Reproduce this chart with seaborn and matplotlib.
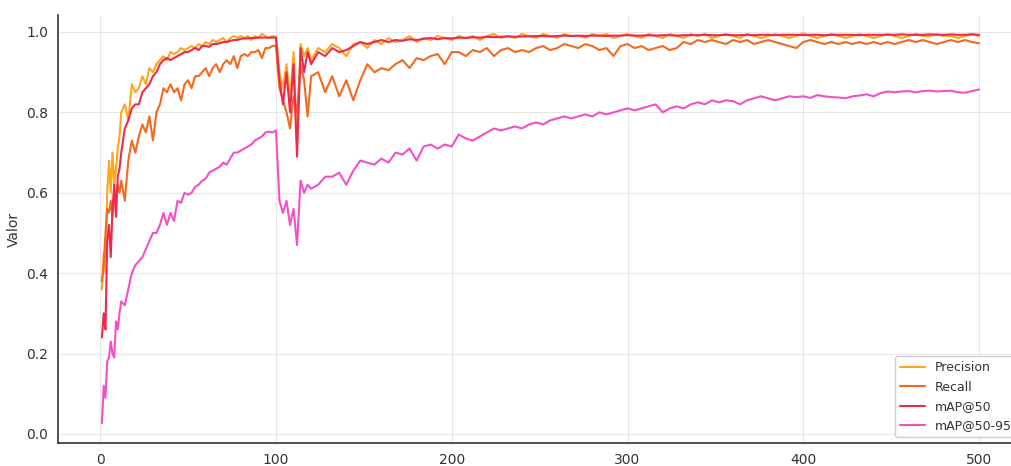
import numpy as np
import pandas as pd
import matplotlib
matplotlib.use("Agg")
import matplotlib.pyplot as plt
import seaborn as sns

# epochs: every epoch at the start, then every 2, then every 4
epochs = np.concatenate([np.arange(1, 13), np.arange(14, 121, 2), np.arange(124, 501, 4)])

precision = [
    0.36, 0.45, 0.40, 0.60, 0.68, 0.60, 0.70, 0.62, 0.66, 0.71, 0.74, 0.80,
    # 14..120
    0.82, 0.78, 0.87, 0.85, 0.86, 0.89, 0.87, 0.91, 0.90, 0.92,
    0.93, 0.94, 0.93, 0.95, 0.945, 0.95, 0.96, 0.955, 0.96, 0.965,
    0.96, 0.97, 0.965, 0.975, 0.97, 0.98, 0.975, 0.98, 0.985, 0.975,
    0.985, 0.99, 0.985, 0.99, 0.985, 0.99, 0.98, 0.99, 0.985, 0.995,
    0.99, 0.985, 0.99, 0.988, 0.90, 0.86, 0.92, 0.83, 0.95, 0.72,
    0.97, 0.94, 0.96, 0.93,
    # 124..500
    0.96, 0.95, 0.97, 0.96, 0.94, 0.97, 0.975, 0.96, 0.98, 0.97,
    0.985, 0.975, 0.98, 0.99, 0.975, 0.985, 0.98, 0.99, 0.985, 0.98,
    0.99, 0.985, 0.99, 0.98, 0.99, 0.995, 0.985, 0.99, 0.985, 0.995,
    0.99, 0.985, 0.995, 0.99, 0.985, 0.995, 0.99, 0.99, 0.985, 0.995,
    0.99, 0.995, 0.985, 0.99, 0.995, 0.99, 0.985, 0.995, 0.99, 0.985,
    0.995, 0.99, 0.985, 0.995, 0.99, 0.995, 0.985, 0.99, 0.995, 0.99,
    0.985, 0.995, 0.99, 0.985, 0.99, 0.995, 0.99, 0.985, 0.99, 0.997,
    0.99, 0.985, 0.99, 0.995, 0.99, 0.985, 0.99, 0.995, 0.99, 0.985,
    0.99, 0.995, 0.99, 0.985, 0.99, 0.995, 0.99, 0.99, 0.995, 0.99,
    0.99, 0.985, 0.99, 0.995, 0.99,
]

recall = [
    0.38, 0.42, 0.50, 0.56, 0.55, 0.58, 0.54, 0.60, 0.59, 0.62, 0.60, 0.63,
    0.58, 0.68, 0.73, 0.70, 0.74, 0.77, 0.75, 0.79, 0.73, 0.80,
    0.82, 0.86, 0.85, 0.87, 0.85, 0.86, 0.83, 0.87, 0.88, 0.86,
    0.89, 0.89, 0.90, 0.91, 0.89, 0.91, 0.92, 0.90, 0.92, 0.93,
    0.92, 0.94, 0.91, 0.94, 0.945, 0.94, 0.95, 0.95, 0.955, 0.935,
    0.96, 0.96, 0.965, 0.966, 0.86, 0.83, 0.80, 0.76, 0.84, 0.80,
    0.92, 0.88, 0.79, 0.89,
    0.90, 0.85, 0.89, 0.84, 0.88, 0.83, 0.88, 0.92, 0.90, 0.91,
    0.905, 0.92, 0.93, 0.91, 0.935, 0.93, 0.94, 0.945, 0.92, 0.95,
    0.95, 0.94, 0.955, 0.95, 0.96, 0.94, 0.955, 0.96, 0.95, 0.955,
    0.95, 0.96, 0.965, 0.955, 0.96, 0.97, 0.965, 0.96, 0.97, 0.965,
    0.955, 0.96, 0.94, 0.965, 0.97, 0.96, 0.965, 0.955, 0.96, 0.965,
    0.955, 0.96, 0.975, 0.97, 0.98, 0.975, 0.98, 0.975, 0.97, 0.98,
    0.975, 0.98, 0.97, 0.975, 0.98, 0.975, 0.97, 0.965, 0.96, 0.975,
    0.98, 0.975, 0.97, 0.975, 0.97, 0.975, 0.97, 0.975, 0.97, 0.975,
    0.97, 0.975, 0.97, 0.975, 0.98, 0.975, 0.98, 0.975, 0.97, 0.975,
    0.98, 0.975, 0.98, 0.975, 0.972,
]

map50 = [
    0.24, 0.30, 0.26, 0.48, 0.52, 0.44, 0.56, 0.62, 0.54, 0.64, 0.66, 0.70,
    0.76, 0.78, 0.81, 0.82, 0.82, 0.85, 0.86, 0.87, 0.89, 0.90,
    0.92, 0.93, 0.935, 0.93, 0.935, 0.94, 0.945, 0.95, 0.95, 0.955,
    0.96, 0.955, 0.965, 0.965, 0.963, 0.97, 0.97, 0.972, 0.975, 0.975,
    0.978, 0.98, 0.98, 0.983, 0.984, 0.984, 0.985, 0.985, 0.986, 0.986,
    0.986, 0.986, 0.986, 0.986, 0.88, 0.82, 0.90, 0.80, 0.92, 0.69,
    0.96, 0.90, 0.95, 0.92,
    0.95, 0.94, 0.96, 0.95, 0.955, 0.965, 0.975, 0.97, 0.975, 0.98,
    0.975, 0.98, 0.978, 0.982, 0.98, 0.983, 0.985, 0.982, 0.985, 0.984,
    0.986, 0.985, 0.987, 0.986, 0.988, 0.987, 0.988, 0.989, 0.988, 0.989,
    0.989, 0.99, 0.99, 0.989, 0.99, 0.991, 0.99, 0.991, 0.99, 0.991,
    0.991, 0.99, 0.991, 0.991, 0.992, 0.991, 0.991, 0.992, 0.991, 0.992,
    0.992, 0.991, 0.992, 0.992, 0.992, 0.993, 0.992, 0.992, 0.993, 0.992,
    0.992, 0.993, 0.992, 0.993, 0.993, 0.992, 0.993, 0.993, 0.993, 0.992,
    0.993, 0.993, 0.992, 0.993, 0.993, 0.993, 0.993, 0.992, 0.993, 0.993,
    0.993, 0.993, 0.993, 0.994, 0.993, 0.993, 0.993, 0.994, 0.993, 0.993,
    0.994, 0.993, 0.993, 0.994, 0.993,
]

map50_95 = [
    0.027, 0.12, 0.09, 0.18, 0.19, 0.23, 0.20, 0.19, 0.28, 0.26, 0.30, 0.33,
    0.32, 0.36, 0.40, 0.42, 0.43, 0.44, 0.46, 0.48, 0.50, 0.50,
    0.52, 0.55, 0.52, 0.55, 0.53, 0.58, 0.575, 0.60, 0.595, 0.60,
    0.615, 0.62, 0.63, 0.635, 0.65, 0.655, 0.66, 0.665, 0.675, 0.67,
    0.685, 0.70, 0.70, 0.705, 0.71, 0.715, 0.72, 0.73, 0.735, 0.74,
    0.75, 0.752, 0.75, 0.755, 0.58, 0.55, 0.58, 0.52, 0.56, 0.47,
    0.63, 0.60, 0.62, 0.61,
    0.62, 0.64, 0.64, 0.65, 0.62, 0.655, 0.68, 0.675, 0.67, 0.685,
    0.675, 0.70, 0.695, 0.71, 0.68, 0.715, 0.72, 0.71, 0.72, 0.715,
    0.745, 0.735, 0.73, 0.74, 0.75, 0.76, 0.755, 0.76, 0.765, 0.76,
    0.77, 0.775, 0.77, 0.78, 0.785, 0.79, 0.785, 0.79, 0.795, 0.79,
    0.80, 0.795, 0.80, 0.805, 0.81, 0.805, 0.81, 0.815, 0.82, 0.80,
    0.81, 0.815, 0.81, 0.82, 0.825, 0.82, 0.83, 0.825, 0.83, 0.828,
    0.82, 0.83, 0.835, 0.84, 0.835, 0.83, 0.835, 0.84, 0.838, 0.84,
    0.836, 0.843, 0.84, 0.838, 0.837, 0.835, 0.84, 0.842, 0.845, 0.84,
    0.848, 0.852, 0.85, 0.852, 0.853, 0.85, 0.853, 0.854, 0.852, 0.853,
    0.854, 0.85, 0.849, 0.853, 0.857,
]

metric_names = ["Precision", "Recall", "mAP@50", "mAP@50-95"]
metric_colors = ["#FFA51E", "#F26A22", "#EC2A4E", "#F052C6"]

df = pd.concat([
    pd.DataFrame({"Época": epochs, "Valor": vals, "Métrica": name})
    for name, vals in zip(metric_names, [precision, recall, map50, map50_95])
])

sns.set_style("whitegrid", {
    "grid.color": "#e8e8e8",
    "axes.edgecolor": "#333333",
    "text.color": "#333333",
    "axes.labelcolor": "#333333",
    "xtick.color": "#333333",
    "ytick.color": "#333333",
})
plt.rcParams["font.family"] = ["DejaVu Sans"]

fig = plt.figure(figsize=(10.12, 4.66), dpi=100)
ax = fig.add_axes([58 / 1012, 22.6 / 466, 965 / 1012, 428.9 / 466])

sns.lineplot(data=df, x="Época", y="Valor", hue="Métrica", hue_order=metric_names,
             palette=dict(zip(metric_names, metric_colors)), estimator=None,
             linewidth=1.5, ax=ax)

ax.set_xlim(-24, 525)
ax.set_ylim(-0.0235, 1.0435)
ax.set_xticks([0, 100, 200, 300, 400, 500])
ax.set_yticks([0.0, 0.2, 0.4, 0.6, 0.8, 1.0])
ax.tick_params(labelsize=10)
ax.set_xlabel("Época", fontsize=10)
ax.set_ylabel("Valor", fontsize=10)
for side in ["top", "right"]:
    ax.spines[side].set_visible(False)
for side in ["left", "bottom"]:
    ax.spines[side].set_linewidth(1.2)

leg = ax.legend(loc="lower right", fontsize=9, frameon=True, framealpha=1)
leg.get_frame().set_edgecolor("#d0d0d0")

fig.savefig("out.png", dpi=100)
